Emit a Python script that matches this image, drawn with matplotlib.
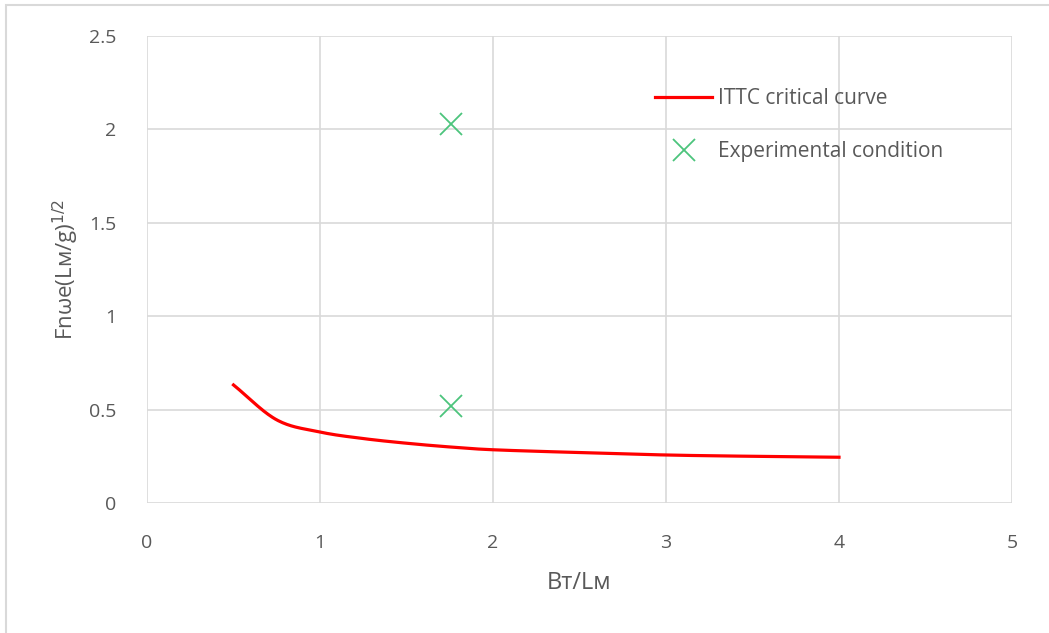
import numpy as np
import matplotlib.pyplot as plt
from matplotlib.patches import Rectangle

ittc_x = [0.5, 0.75, 1.0, 1.25, 1.5, 1.75, 2.0, 2.5, 3.0, 3.5, 4.0]
ittc_y = [0.632, 0.445, 0.38, 0.345, 0.32, 0.30, 0.285, 0.27, 0.257, 0.25, 0.245]

# experimental conditions
exp_x = [1.76, 1.76]
exp_y = [2.03, 0.52]


def smooth(x, y, n=30):
    # catmull-rom through the points, like a smoothed excel line
    x = np.asarray(x, float)
    y = np.asarray(y, float)
    px = np.r_[2 * x[0] - x[1], x, 2 * x[-1] - x[-2]]
    py = np.r_[2 * y[0] - y[1], y, 2 * y[-1] - y[-2]]
    ox, oy = [], []
    t = np.linspace(0, 1, n, endpoint=False)
    for i in range(1, len(px) - 2):
        for p, o in ((px, ox), (py, oy)):
            p0, p1, p2, p3 = p[i - 1], p[i], p[i + 1], p[i + 2]
            o.extend(0.5 * (2 * p1 + (-p0 + p2) * t
                            + (2 * p0 - 5 * p1 + 4 * p2 - p3) * t ** 2
                            + (-p0 + 3 * p1 - 3 * p2 + p3) * t ** 3))
    ox.append(x[-1])
    oy.append(y[-1])
    return np.array(ox), np.array(oy)


plt.rcParams['font.family'] = ['Open Sans', 'DejaVu Sans']

W, H = 1049, 633
fig = plt.figure(figsize=(W / 100, H / 100), dpi=100)
# chart area border (only top/left fall inside the image)
fig.patches.append(Rectangle((6 / W, -0.1), 1.2, 1.1 - 5 / H, transform=fig.transFigure,
                             fill=False, edgecolor='#d9d9d9', linewidth=1.5))

ax = fig.add_axes([147 / W, 1 - 503 / H, 865 / W, 467 / H])
sx, sy = smooth(ittc_x, ittc_y)
ax.plot(sx, sy, color='#ff0000', linewidth=2.3, label='ITTC critical curve', zorder=3)
ax.plot(exp_x, exp_y, linestyle='none', marker='x', markersize=16, markeredgewidth=1.3,
        color='#4cc47c', label='Experimental condition', zorder=3)

ax.set_xlim(0, 5)
ax.set_ylim(0, 2.5)
ax.set_xticks([0, 1, 2, 3, 4, 5])
ax.set_yticks([0, 0.5, 1, 1.5, 2, 2.5])
ax.set_xticklabels(['0', '1', '2', '3', '4', '5'])
ax.set_yticklabels(['0', '0.5', '1', '1.5', '2', '2.5'])
ax.grid(True, color='#d9d9d9', linewidth=1.2)
ax.set_axisbelow(True)
for s in ax.spines.values():
    s.set_visible(False)
ax.tick_params(axis='y', length=0, labelsize=14, labelcolor='#595959', pad=22)
ax.tick_params(axis='x', length=0, labelsize=14, labelcolor='#595959', pad=22)

ax.set_xlabel('Bт/Lм', fontsize=17, color='#595959', labelpad=14)
ax.set_ylabel('Fnωe(Lм/g)$^{1/2}$', fontsize=16, color='#595959', labelpad=6)

ax.legend(loc='upper left', bbox_to_anchor=(655 / W, 1 - 88 / H), bbox_transform=fig.transFigure,
          frameon=False, fontsize=15, handlelength=2.74, labelspacing=1.55, handletextpad=0.29,
          borderpad=0, borderaxespad=0, labelcolor='#595959')

fig.savefig('out.png', dpi=100)
